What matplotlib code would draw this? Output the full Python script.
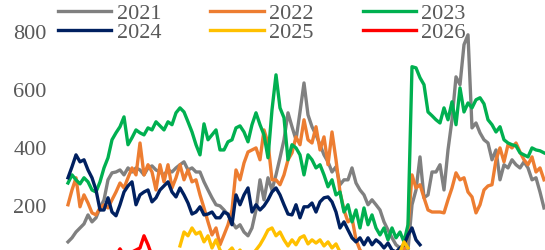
import numpy as np
import matplotlib
matplotlib.use("Agg")
import matplotlib.pyplot as plt

plt.rcParams["font.family"] = ["Liberation Serif", "DejaVu Serif"]

# series values, one point per step along the season (index 0..119)
years = ["2021", "2022", "2023", "2024", "2025", "2026"]
colors = ["#808080", "#ED7D31", "#00B050", "#002060", "#FFC000", "#FF0000"]

v2021 = [76, 90, 110, 124, 138, 169, 145, 159, 193, 221, 290, 314, 317, 324, 307, 331, 317, 331, 324, 307,
         331, 338, 324, 317, 307, 324, 317, 331, 342, 352, 324, 331, 317, 317, 283, 255, 228, 204, 200, 186,
         169, 145, 124, 135, 110, 97, 124, 186, 290, 221, 297, 255, 307, 366, 428, 521, 473, 428, 524, 624,
         514, 473, 445, 411, 376, 352, 317, 335, 273, 290, 290, 331, 279, 255, 238, 204, 221, 204, 186, 145,
         117, 90, 66, 55, 31, 48, 204, 255, 369, 228, 238, 317, 317, 342, 255, 393, 497, 645, 618, 756,
         790, 469, 486, 452, 428, 417, 359, 393, 290, 342, 331, 359, 342, 331, 352, 331, 290, 297, 248, 193]

v2022 = [204, 255, 297, 197, 238, 210, 176, 169, 193, 204, 193, 221, 248, 279, 262, 297, 331, 307, 417, 307,
         342, 317, 255, 342, 283, 342, 262, 297, 342, 290, 324, 283, 290, 238, 193, 145, 100, 124, 66, 100,
         135, 186, 324, 290, 348, 386, 393, 400, 359, 462, 417, 290, 290, 273, 307, 359, 383, 438, 411, 497,
         428, 417, 473, 393, 438, 342, 455, 359, 248, 186, 145, 159, 83, 48, 30, 35, 25, 30, 28, 35,
         30, 25, 30, 35, 40, 124, 307, 262, 273, 228, 186, 179, 179, 179, 176, 221, 262, 314, 290, 297,
         248, 231, 176, 204, 255, 269, 273, 359, 400, 352, 411, 400, 417, 386, 359, 342, 369, 317, 331, 290]

v2023 = [279, 307, 290, 276, 297, 283, 255, 248, 283, 331, 366, 428, 452, 473, 507, 411, 435, 462, 452, 445,
         469, 462, 490, 476, 462, 490, 480, 521, 538, 524, 490, 455, 411, 376, 483, 428, 445, 462, 393, 393,
         421, 428, 469, 476, 455, 421, 480, 521, 480, 445, 366, 531, 652, 538, 504, 359, 411, 400, 376, 307,
         376, 359, 331, 342, 307, 266, 290, 238, 248, 179, 204, 145, 186, 124, 193, 135, 169, 124, 100, 124,
         83, 124, 90, 110, 76, 135, 680, 676, 642, 618, 524, 511, 497, 486, 538, 497, 559, 480, 607, 524,
         555, 538, 566, 573, 552, 497, 480, 455, 473, 428, 417, 411, 407, 383, 376, 369, 400, 393, 390, 383]

v2024 = [297, 335, 376, 352, 359, 324, 297, 255, 186, 186, 228, 179, 166, 204, 248, 269, 283, 204, 238, 248,
         255, 214, 228, 255, 269, 283, 248, 231, 262, 238, 210, 172, 179, 197, 169, 172, 179, 159, 159, 179,
         172, 135, 238, 204, 238, 262, 179, 204, 186, 200, 221, 248, 262, 238, 204, 172, 169, 204, 159, 197,
         197, 210, 179, 214, 228, 231, 214, 179, 124, 145, 117, 90, 76, 90, 66, 90, 66, 83, 72, 55,
         72, 48, 41, 55, 66, 100, 124, 83, 66]

v2025 = [62, 110, 97, 124, 103, 110, 76, 97, 55, 83, 48, 31, 41, 55, 31, 48, 28, 41, 31, 48,
         66, 90, 117, 124, 97, 110, 83, 62, 83, 66, 90, 97, 69, 83, 72, 83, 62, 76, 55, 69,
         41, 35, 30, 25, 30, 28, 32, 25, 30, 35, 30, 28, 33, 30, 35, 40, 76, 55]
start2025 = 28

v2026 = [28, 52, 28, 35, 41, 48, 55, 97, 66, 28]
start2026 = 12

series = [(v2021, 0), (v2022, 0), (v2023, 0), (v2024, 0), (v2025, start2025), (v2026, start2026)]

fig = plt.figure(figsize=(5.45, 2.5), dpi=100)
ax = fig.add_axes([62 / 545, 0, 483 / 545, 1])

lines = []
for (vals, start), year, col in zip(series, years, colors):
    x = np.arange(start, start + len(vals))
    ln, = ax.plot(x, vals, color=col, lw=2.4, label=year, solid_joinstyle="round")
    lines.append(ln)

ax.set_xlim(-1.5, 119.25)
ax.set_ylim(48, 910)
ax.set_yticks([200, 400, 600, 800])
ax.set_xticks([])
ax.tick_params(axis="y", length=0, pad=11, labelsize=16, labelcolor="#595959")
for s in ax.spines.values():
    s.set_visible(False)

# column-major order so rows read 2021 2022 2023 / 2024 2025 2026
order = [0, 3, 1, 4, 2, 5]
ax.legend([lines[i] for i in order], [years[i] for i in order], ncol=3,
          loc="upper left", bbox_to_anchor=(58 / 545, 1 - 3 / 250), bbox_transform=fig.transFigure,
          frameon=False, fontsize=16, labelcolor="#595959", handlelength=2.4,
          handletextpad=0.25, columnspacing=2.2, labelspacing=-0.05, borderpad=0.0,
          borderaxespad=0.0)

fig.savefig("out.png", dpi=100)
